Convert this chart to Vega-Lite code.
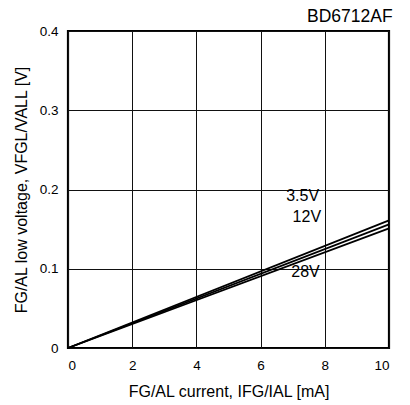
{
  "$schema": "https://vega.github.io/schema/vega-lite/v6.json",
  "width": 321,
  "height": 317,
  "autosize": "none",
  "padding": {"left": 68, "top": 31, "right": 21, "bottom": 57},
  "config": {
    "font": "Liberation Sans",
    "view": {"stroke": "#000", "strokeWidth": 2.2},
    "axis": {"domain": false, "ticks": false, "grid": true, "gridColor": "#111", "gridWidth": 1, "gridOpacity": 1, "labelFont": "Liberation Sans", "labelFontSize": 13.5, "labelColor": "#000", "titleFont": "Liberation Sans", "titleFontSize": 16, "titleFontWeight": "normal", "titleColor": "#000"}
  },
  "title": {"text": "BD6712AF", "anchor": "end", "fontSize": 17.5, "fontWeight": "normal", "font": "Liberation Sans", "color": "#000", "offset": 0, "dy": 1},
  "datasets": {
    "lines": [
      {"series": "3.5V", "x": 0, "y": 0},
      {"series": "3.5V", "x": 10, "y": 0.161},
      {"series": "12V", "x": 0, "y": 0},
      {"series": "12V", "x": 10, "y": 0.156},
      {"series": "28V", "x": 0, "y": 0},
      {"series": "28V", "x": 10, "y": 0.151}
    ],
    "labels": [
      {"label": "3.5V", "x": 7.31, "y": 0.192},
      {"label": "12V", "x": 7.44, "y": 0.165},
      {"label": "28V", "x": 7.4, "y": 0.096}
    ]
  },
  "layer": [
    {
      "data": {"name": "lines"},
      "mark": {"type": "line", "color": "#000", "strokeWidth": 1.8},
      "encoding": {
        "x": {"field": "x", "type": "quantitative", "scale": {"domain": [0, 10], "nice": false}, "axis": {"values": [0, 2, 4, 6, 8, 10], "labelPadding": 10, "titlePadding": 12, "title": "FG/AL current, IFG/IAL [mA]"}},
        "y": {"field": "y", "type": "quantitative", "scale": {"domain": [0, 0.4], "nice": false}, "axis": {"values": [0, 0.1, 0.2, 0.3, 0.4], "format": ".1~f", "labelPadding": 10, "titlePadding": 10, "title": "FG/AL low voltage, VFGL/VALL [V]"}},
        "detail": {"field": "series", "type": "nominal"}
      }
    },
    {
      "data": {"name": "labels"},
      "mark": {"type": "text", "fontSize": 16, "color": "#000", "font": "Liberation Sans", "baseline": "middle", "align": "center"},
      "encoding": {
        "x": {"field": "x", "type": "quantitative"},
        "y": {"field": "y", "type": "quantitative"},
        "text": {"field": "label", "type": "nominal"}
      }
    }
  ]
}
